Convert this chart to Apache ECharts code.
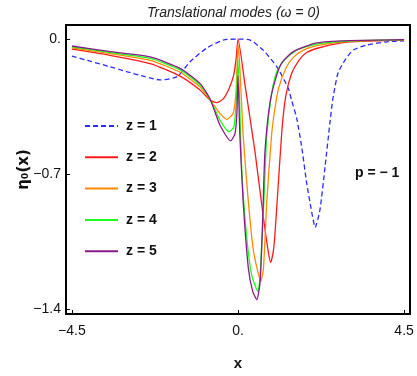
<!DOCTYPE html>
<html lang="en">
<head>
  <meta charset="UTF-8">
  <title>Translational modes</title>
  <script src="https://cdn.jsdelivr.net/npm/echarts@6.0.0/dist/echarts.min.js"></script>
  <style>
    html, body { margin: 0; padding: 0; background: #fff; }
    #chart { width: 417px; height: 376px; }
  </style>
</head>
<body>
  <div id="chart"></div>
  <script>
    // values
    var seriesNames = ['z = 1', 'z = 2', 'z = 3', 'z = 4', 'z = 5'];

    var xZ1 = [-4.5, -4.0, -3.47, -3.0, -2.52, -2.11, -1.65, -1.3, -0.85, -0.4, 0, 0.33, 0.68, 1.05, 1.36, 1.45, 1.59, 1.73, 1.86, 2.0, 2.09, 2.22, 2.36, 2.49, 2.57, 2.71, 2.9, 3.12, 3.49, 4.03, 4.5];
    var yZ1 = [-0.088, -0.115, -0.143, -0.17, -0.195, -0.212, -0.195, -0.118, -0.047, -0.005, 0, -0.005, -0.057, -0.143, -0.254, -0.316, -0.41, -0.565, -0.746, -0.9, -0.977, -0.886, -0.66, -0.435, -0.31, -0.176, -0.109, -0.057, -0.031, -0.014, -0.009];

    var xZ2 = [-4.5, -3.5, -2.38, -1.57, -1.03, -0.76, -0.58, -0.4, -0.25, -0.12, -0.05, 0, 0.19, 0.46, 0.69, 0.82, 0.886, 0.957, 1.0, 1.09, 1.2, 1.3, 1.45, 1.65, 1.86, 2.2, 3.0, 4.5];
    var yZ2 = [-0.052, -0.083, -0.127, -0.192, -0.264, -0.316, -0.33, -0.31, -0.26, -0.19, -0.1, 0, -0.238, -0.584, -0.929, -1.102, -1.159, -1.1, -1.016, -0.756, -0.45, -0.29, -0.18, -0.11, -0.07, -0.045, -0.015, -0.005];

    var xZ3 = [-4.5, -3.5, -2.38, -1.57, -1.03, -0.76, -0.49, -0.3, -0.13, -0.05, 0, 0.05, 0.14, 0.28, 0.42, 0.62, 0.69, 0.78, 0.91, 1.0, 1.1, 1.3, 1.5, 1.77, 2.2, 3.0, 4.5];
    var yZ3 = [-0.045, -0.074, -0.11, -0.172, -0.248, -0.314, -0.385, -0.416, -0.385, -0.264, -0.025, -0.15, -0.5, -0.843, -1.1, -1.255, -1.188, -0.843, -0.497, -0.36, -0.255, -0.15, -0.095, -0.057, -0.031, -0.012, -0.004];

    var xZ4 = [-4.5, -3.5, -2.38, -1.57, -1.03, -0.76, -0.49, -0.24, -0.11, -0.04, 0, 0.1, 0.23, 0.37, 0.54, 0.6, 0.7, 0.78, 0.91, 1.05, 1.25, 1.59, 2.13, 3.0, 4.5];
    var yZ4 = [-0.04, -0.069, -0.1, -0.16, -0.238, -0.312, -0.42, -0.48, -0.454, -0.3, -0.105, -0.67, -1.016, -1.223, -1.309, -1.223, -0.843, -0.497, -0.285, -0.17, -0.11, -0.057, -0.026, -0.01, -0.003];

    var xZ5 = [-4.5, -3.5, -2.38, -1.57, -1.03, -0.76, -0.49, -0.2, -0.08, -0.03, 0, 0.05, 0.14, 0.28, 0.4, 0.51, 0.6, 0.67, 0.73, 0.87, 1.05, 1.2, 1.5, 2.13, 3.0, 4.5];
    var yZ5 = [-0.036, -0.064, -0.092, -0.152, -0.23, -0.31, -0.446, -0.528, -0.489, -0.385, -0.19, -0.497, -0.843, -1.188, -1.31, -1.352, -1.257, -0.93, -0.584, -0.325, -0.187, -0.12, -0.065, -0.02, -0.008, -0.003];

    var xTicks = [-4.5, 0, 4.5];
    var yTicks = [-1.4, -0.7, 0];

    var colors = ['#2b2bff', '#ff1a1a', '#ff8a00', '#1aff1a', '#8a1a8a'];

    function pairs(xs, ys) {
      return xs.map(function (x, i) { return [x, ys[i]]; });
    }
    var allX = [xZ1, xZ2, xZ3, xZ4, xZ5];
    var allY = [yZ1, yZ2, yZ3, yZ4, yZ5];

    function fmt(v) {
      if (v === 0) return '0.';
      return String(v).replace('-', '\u2212');
    }

    var chart = echarts.init(document.getElementById('chart'));
    chart.setOption({
      animation: false,
      title: {
        text: 'Translational modes (\u03c9 = 0)',
        left: 147, top: 6, padding: 0,
        textStyle: { fontFamily: 'Liberation Sans', fontSize: 14, fontStyle: 'italic', fontWeight: 'normal', color: '#222' }
      },
      graphic: [{
        type: 'text', left: 355, top: 166,
        style: { text: 'p = \u2212 1', font: 'bold 14px "Liberation Sans"', fill: '#111' }
      }],
      legend: {
        orient: 'vertical',
        left: 84, top: 119, padding: 0,
        itemWidth: 33, itemHeight: 14, itemGap: 17.3,
        itemStyle: { opacity: 0 },
        data: seriesNames,
        textStyle: { fontFamily: 'Liberation Sans', fontSize: 14, fontWeight: 'bold', color: '#111', padding: [0, 0, 0, 3] }
      },
      grid: { left: 66, right: 7, top: 25, bottom: 62, show: true, borderColor: '#000', borderWidth: 2 },
      xAxis: {
        type: 'value', min: -4.66, max: 4.66,
        name: 'x', nameLocation: 'middle', nameGap: 42,
        nameTextStyle: { fontFamily: 'Liberation Sans', fontSize: 15, fontWeight: 'bold', color: '#111' },
        axisLine: { show: false, onZero: false },
        splitLine: { show: false },
        axisTick: { inside: true, length: 4, customValues: xTicks, lineStyle: { color: '#000' } },
        axisLabel: { customValues: xTicks, formatter: fmt, margin: 10, fontFamily: 'Liberation Sans', fontSize: 14, color: '#111' }
      },
      yAxis: {
        type: 'value', min: -1.426, max: 0.073,
        name: '\u03b7\u2080(x)', nameLocation: 'middle', nameGap: 34, nameRotate: 90,
        nameMoveOverlap: false,
        nameTextStyle: { fontFamily: 'DejaVu Sans', fontSize: 15, fontWeight: 'bold', color: '#111' },
        axisLine: { show: false, onZero: false },
        splitLine: { show: false },
        axisTick: { inside: true, length: 4, customValues: yTicks, lineStyle: { color: '#000' } },
        axisLabel: { customValues: yTicks, formatter: fmt, margin: 5, fontFamily: 'Liberation Sans', fontSize: 14, color: '#111' }
      },
      series: seriesNames.map(function (name, i) {
        return {
          name: name,
          type: 'line',
          data: pairs(allX[i], allY[i]),
          showSymbol: false,
          symbol: 'none',
          smooth: 0.2,
          color: colors[i],
          lineStyle: { width: 1.3, color: colors[i], type: i === 0 ? [5, 3] : 'solid' }
        };
      })
    });
  </script>
</body>
</html>
